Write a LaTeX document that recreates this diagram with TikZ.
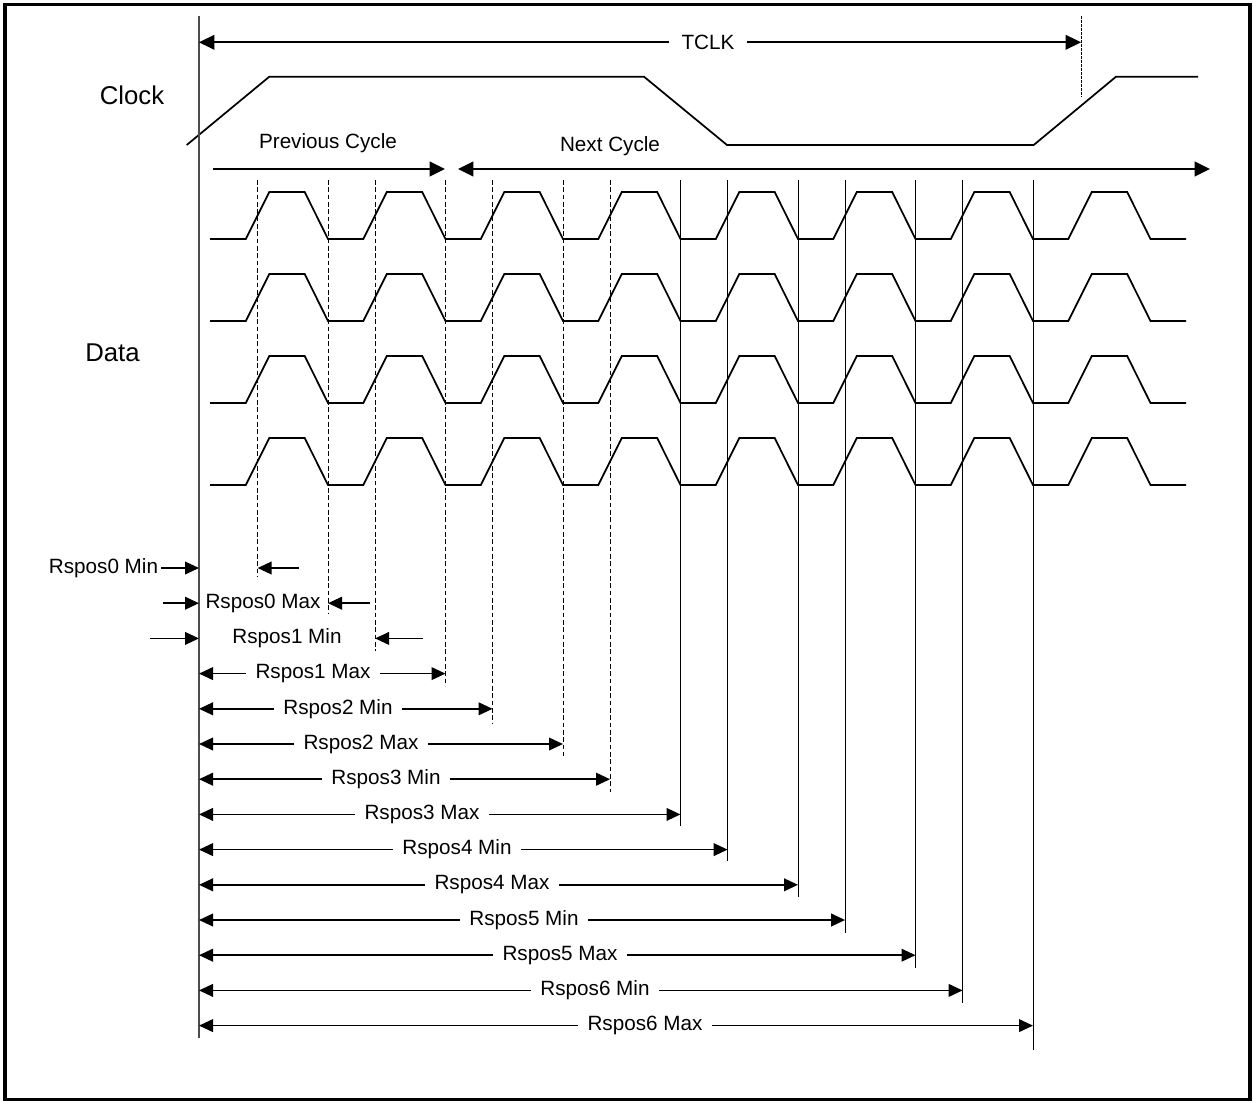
\documentclass[tikz,border=0pt]{standalone}
\usepackage{fontspec}
\setmainfont{Liberation Sans}
\usetikzlibrary{arrows.meta}

\tikzset{
	sig/.style={line width=1.3pt, line join=miter},
	dashtick/.style={line width=0.75pt, dash pattern=on 3.5pt off 2pt},
	solidtick/.style={line width=0.75pt},
	dimarr/.style={line width=1.3pt, -{Triangle[length=10.5pt,width=9.5pt]}},
	bigarr/.style={line width=1.3pt, -{Triangle[length=11.5pt,width=11pt]}},
	bigboth/.style={line width=1.3pt, {Triangle[length=11.5pt,width=11pt]}-{Triangle[length=11.5pt,width=11pt]}},
	lbl/.style={font=\fontsize{15.5}{18}\selectfont, inner sep=0pt},
	title/.style={font=\fontsize{19.3}{23}\selectfont, inner sep=0pt}
}

\begin{document}
\begin{tikzpicture}[x=0.75pt,y=-0.75pt]
	%%%%% START %%%%%
	\def\xz{199}
	\def\per{117.5}
	\useasboundingbox (0,0) rectangle (1253,1101);
	\draw[line width=2.6pt] (5,4.5) rectangle (1250,1099.5);

	\node[title] (clk) at (132,95) {Clock};
	\node[title] (dat) at (112.5,353) {Data};
	\draw[sig] (186.7,145) -- (269.3,76.7) -- (644,76.7) -- (727,145) -- (1033.7,145) -- (1116,76.7) -- (1198,76.7);

	% reference line
	\draw[black!70, line width=0.8pt] (\xz,16) -- (\xz,1038);

	% TCLK
	\coordinate (t0) at (\xz,42.3);
	\coordinate (t1) at (1081,42.3);
	\draw[line width=0.75pt, dash pattern=on 2pt off 1pt] (1081,16) -- (1081,97);
	\node[lbl, inner xsep=9pt] (tclk) at (708,42.3) {TCLK};
	\draw[bigarr] (tclk.west) -- (t0);
	\draw[bigarr] (tclk.east) -- (t1);

	% cycles
	\node[lbl] (prev) at (328,143) {Previous Cycle};
	\node[lbl] (next) at (610,146) {Next Cycle};
	\coordinate (p0) at (213,169);
	\coordinate (p1) at (445,169);
	\coordinate (n0) at (458,169);
	\coordinate (n1) at (1210,169);
	\draw[bigarr] (p0) -- (p1);
	\draw[bigboth] (n0) -- (n1);

	% data lanes
	\foreach \yl in {239,321,403,485} {
		\draw[sig] (210,\yl) \foreach \k in {0,...,7} { -- ({245.8+\per*\k},\yl) -- ({269.3+\per*\k},\yl-47) -- ({304.7+\per*\k},\yl-47) -- ({328+\per*\k},\yl) } -- (1186,\yl);
	}

	% sample positions
	\foreach \xv/\yb/\st in {257.6/577/dashtick, 328/613/dashtick, 375.1/651/dashtick, 445.5/686/dashtick, 492.6/723/dashtick, 563/756/dashtick, 610.1/792/dashtick, 680.5/826/solidtick, 727.6/861/solidtick, 798/897/solidtick, 845.1/933/solidtick, 915.5/968/solidtick, 962.6/1003/solidtick, 1033/1050/solidtick}
		\draw[\st] (\xv,180) -- (\xv,\yb);

	% Rspos0 / Rspos1 Min
	\node[lbl, anchor=east, inner sep=2pt] (r0) at (161,568) {Rspos0 Min};
	\coordinate (a0) at (\xz,568);
	\coordinate (b0) at (299,568);
	\coordinate (c0) at (257.6,568);
	\draw[dimarr] (r0.east) -- (a0);
	\draw[dimarr] (b0) -- (c0);

	\node[lbl] (r1) at (263,603.2) {Rspos0 Max};
	\coordinate (f1) at (163,603.2);
	\coordinate (a1) at (\xz,603.2);
	\coordinate (b1) at (370,603.2);
	\coordinate (c1) at (328,603.2);
	\draw[dimarr] (f1) -- (a1);
	\draw[dimarr] (b1) -- (c1);

	\node[lbl] (r2) at (287,638.4) {Rspos1 Min};
	\coordinate (f2) at (150,638.4);
	\coordinate (a2) at (\xz,638.4);
	\coordinate (b2) at (422.7,638.4);
	\coordinate (c2) at (375.1,638.4);
	\draw[dimarr] (f2) -- (a2);
	\draw[dimarr] (b2) -- (c2);

	% spans from the reference line
	\foreach \i/\xe/\xc/\txt in {3/445.5/313/Rspos1 Max, 4/492.6/338/Rspos2 Min, 5/563/361/Rspos2 Max, 6/610.1/386/Rspos3 Min, 7/680.5/422/Rspos3 Max, 8/727.6/457/Rspos4 Min, 9/798/492/Rspos4 Max, 10/845.1/524/Rspos5 Min, 11/915.5/560/Rspos5 Max, 12/962.6/595/Rspos6 Min, 13/1033/645/Rspos6 Max} {
		\node[lbl, inner xsep=7pt] (r\i) at (\xc,568+35.2*\i) {\txt};
		\coordinate (s\i) at (\xz,568+35.2*\i);
		\coordinate (e\i) at (\xe,568+35.2*\i);
		\draw[dimarr] (r\i.west) -- (s\i);
		\draw[dimarr] (r\i.east) -- (e\i);
	}
	%%%%% END %%%%%
\end{tikzpicture}
\end{document}
